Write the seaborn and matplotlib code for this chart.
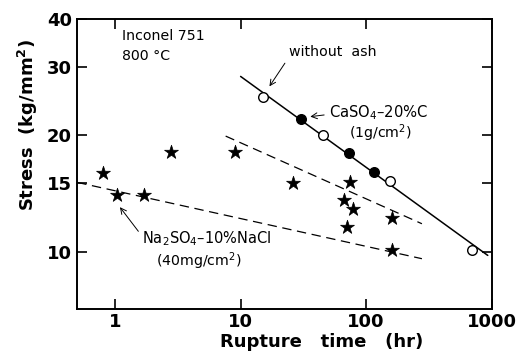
import matplotlib
matplotlib.use("Agg")
import matplotlib.pyplot as plt
import matplotlib.ticker as mticker
import seaborn as sns
import pandas as pd

# ---- data ----
noash_time = [15, 45, 155, 700]
noash_stress = [25.1, 20.0, 15.2, 10.1]

caso4_time = [30, 73, 115]
caso4_stress = [22.0, 18.0, 16.1]

nacl_time = [0.8, 1.03, 1.7, 2.8, 9, 26, 66, 70, 75, 79, 160, 160]
nacl_stress = [16.0, 14.0, 14.0, 18.1, 18.1, 15.0, 13.6, 11.6, 15.1, 12.9, 12.2, 10.1]

fit_solid_time = [10, 930]
fit_solid_stress = [28.4, 9.77]
fit_dash_hi_time = [7.6, 278]
fit_dash_hi_stress = [19.9, 11.8]
fit_dash_lo_time = [0.5, 278]
fit_dash_lo_stress = [15.1, 9.58]

x_ticks = [1, 10, 100, 1000]
y_ticks = [10, 15, 20, 30, 40]

sns.set_theme(style="ticks")
plt.rcParams['font.family'] = ['DejaVu Sans']
plt.rcParams['text.color'] = 'black'
plt.rcParams['axes.labelcolor'] = 'black'

fig = plt.figure(figsize=(5.22, 3.58), dpi=100)
ax = fig.add_axes([0.148, 0.137, 0.794, 0.810])

df_noash = pd.DataFrame({"t": noash_time, "s": noash_stress})
df_ca = pd.DataFrame({"t": caso4_time, "s": caso4_stress})
df_na = pd.DataFrame({"t": nacl_time, "s": nacl_stress})

sns.lineplot(x=fit_solid_time, y=fit_solid_stress, ax=ax, color="black", lw=1.1)
sns.lineplot(x=fit_dash_hi_time, y=fit_dash_hi_stress, ax=ax, color="black", lw=0.9,
             linestyle=(0, (7.5, 4.5)))
sns.lineplot(x=fit_dash_lo_time, y=fit_dash_lo_stress, ax=ax, color="black", lw=0.9,
             linestyle=(0, (7.5, 4.5)))

sns.scatterplot(data=df_noash, x="t", y="s", ax=ax, marker="o", s=48,
                facecolor="white", edgecolor="black", linewidth=1.0, zorder=5)
sns.scatterplot(data=df_ca, x="t", y="s", ax=ax, marker="o", s=48,
                color="black", edgecolor="black", linewidth=1.0, zorder=5)
sns.scatterplot(data=df_na, x="t", y="s", ax=ax, marker="*", s=110,
                color="black", edgecolor="black", linewidth=0.5, zorder=5)

ax.set_xscale("log")
ax.set_yscale("log")
ax.set_xlim(0.5, 1000)
ax.set_ylim(7.1, 40)

ax.xaxis.set_major_locator(mticker.FixedLocator(x_ticks))
ax.xaxis.set_major_formatter(mticker.FixedFormatter([str(v) for v in x_ticks]))
ax.yaxis.set_major_locator(mticker.FixedLocator(y_ticks))
ax.yaxis.set_major_formatter(mticker.FixedFormatter([str(v) for v in y_ticks]))
ax.xaxis.set_minor_locator(mticker.NullLocator())
ax.yaxis.set_minor_locator(mticker.NullLocator())

ax.tick_params(which="major", direction="in", top=True, right=True,
               length=7, width=1.2, labelsize=13, pad=4, colors="black")
ax.tick_params(axis="x", pad=3)
for lab in ax.get_xticklabels() + ax.get_yticklabels():
    lab.set_fontweight("bold")
for sp in ax.spines.values():
    sp.set_linewidth(1.4)
    sp.set_color("black")

ax.set_xlabel("Rupture   time   (hr)", fontsize=13, fontweight="bold", color="black")
ax.set_ylabel("Stress  (kg/mm$^\\mathbf{2}$)", fontsize=13, fontweight="bold", color="black")
ax.xaxis.set_label_coords(0.59, -0.083)
ax.yaxis.set_label_coords(-0.089, 0.636)

fs = 10.2
ax.text(0.109, 0.941, "Inconel 751", transform=ax.transAxes, fontsize=fs,
        ha="left", va="center", color="black")
ax.text(0.109, 0.872, "800 °C", transform=ax.transAxes, fontsize=fs,
        ha="left", va="center", color="black")

arrow = dict(arrowstyle="->", lw=0.7, color="black", shrinkA=1, shrinkB=2)
ax.annotate("without  ash", xy=(16.5, 26.4), xytext=(24.2, 32.9), fontsize=fs,
            ha="left", va="center", color="black",
            arrowprops=dict(arrow, relpos=(0, 0.1)))
ax.annotate("CaSO$_4$–20%C", xy=(34.1, 22.3), xytext=(50.4, 22.9), fontsize=fs + 0.4,
            ha="left", va="center", color="black",
            arrowprops=dict(arrow, relpos=(0, 0.4)))
ax.text(72.8, 20.3, "(1g/cm$^2$)", fontsize=fs, ha="left", va="center", color="black")
ax.annotate("Na$_2$SO$_4$–10%NaCl", xy=(1.06, 13.2), xytext=(1.654, 10.8),
            fontsize=fs + 0.3, ha="left", va="center", color="black",
            arrowprops=dict(arrow, relpos=(0, 0.6)))
ax.text(2.12, 9.45, "(40mg/cm$^2$)", fontsize=fs, ha="left", va="center", color="black")

fig.savefig("out.png", dpi=100)
